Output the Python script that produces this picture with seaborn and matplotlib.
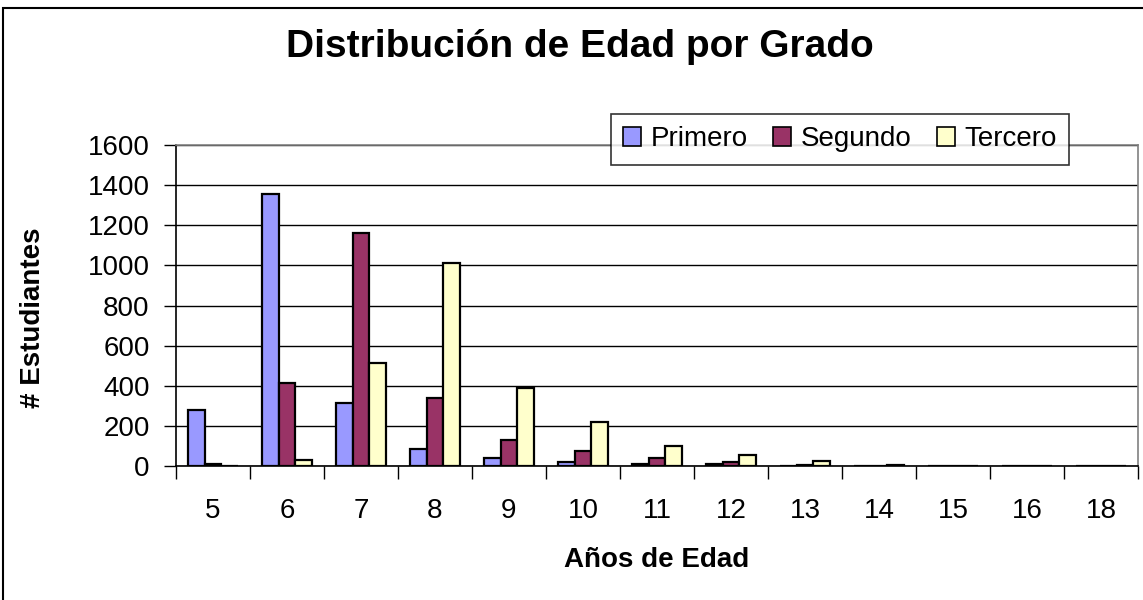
import matplotlib
matplotlib.use("Agg")
import matplotlib.pyplot as plt
import matplotlib.patches as mpatches
import numpy as np
import pandas as pd
import seaborn as sns

edades = ["5", "6", "7", "8", "9", "10", "11", "12", "13", "14", "15", "16", "18"]
primero = [280, 1355, 315, 85, 40, 20, 10, 8, 0, 0, 0, 0, 0]
segundo = [8, 415, 1160, 340, 130, 75, 40, 20, 5, 0, 0, 0, 0]
tercero = [0, 30, 515, 1010, 390, 220, 100, 55, 25, 5, 0, 0, 0]
grados = ["Primero", "Segundo", "Tercero"]
colores = ["#9999FF", "#993366", "#FFFFCC"]

df = pd.DataFrame({
    "edad": edades * 3,
    "grado": [g for g in grados for _ in edades],
    "n": primero + segundo + tercero,
})

sns.set_style("white")
plt.rcParams["font.family"] = ["Liberation Sans", "DejaVu Sans"]
plt.rcParams.update({"text.color": "black", "axes.labelcolor": "black",
                     "xtick.color": "black", "ytick.color": "black"})

W, H = 1143, 600
fig = plt.figure(figsize=(W / 100, H / 100), dpi=100)
ax = fig.add_axes([176 / W, 1 - 466 / H, (1138 - 176) / W, (466 - 145) / H])

sns.barplot(data=df, x="edad", y="n", hue="grado", order=edades,
            hue_order=grados, palette=colores, width=0.68, saturation=1,
            edgecolor="black", linewidth=1.6, ax=ax, legend=False)

ax.set_ylim(0, 1600)
ax.set_xlim(-0.5, len(edades) - 0.5)
ax.set_yticks(np.arange(0, 1601, 200))
ax.yaxis.grid(True, color="black", linewidth=1)
ax.set_axisbelow(True)
ax.tick_params(axis="y", labelsize=20, length=9, width=1, direction="out", left=True, pad=10)
ax.tick_params(axis="x", which="major", labelsize=20, length=0, pad=23)
ax.set_xticks(np.arange(-0.5, len(edades)), minor=True)
ax.tick_params(axis="x", which="minor", length=9, width=1, direction="out", bottom=True)

for s in ["left", "bottom"]:
    ax.spines[s].set_color("black")
    ax.spines[s].set_linewidth(1.2)
for s in ["top", "right"]:
    ax.spines[s].set_color("#808080")
    ax.spines[s].set_linewidth(1.2)

ax.set_xlabel("Años de Edad", fontsize=20, fontweight="bold")
ax.set_ylabel("# Estudiantes", fontsize=20, fontweight="bold")
ax.xaxis.set_label_coords(657 / W, 1 - 560 / H, transform=fig.transFigure)
ax.xaxis.label.set_va("center")
ax.yaxis.set_label_coords(33 / W, 1 - 318 / H, transform=fig.transFigure)
ax.yaxis.label.set_va("center")

fig.text(580 / W, 1 - 47 / H, "Distribución de Edad por Grado", ha="center",
         va="center", fontsize=28, fontweight="bold")

handles = [mpatches.Patch(facecolor=c, edgecolor="black", linewidth=1.2, label=g)
           for g, c in zip(grados, colores)]
leg = fig.legend(handles=handles, loc="center", ncol=3,
                 bbox_to_anchor=(840 / W, 1 - 139 / H), fontsize=20,
                 frameon=True, fancybox=False, handlelength=0.65,
                 handleheight=0.65, handletextpad=0.35, columnspacing=0.9,
                 borderpad=0.45, borderaxespad=0)
leg.get_frame().set_edgecolor("black")
leg.get_frame().set_linewidth(1.2)

fig.patches.append(mpatches.Rectangle((3 / W, -0.05), 1.2, 1 - 8 / H + 0.05,
                                      transform=fig.transFigure, fill=False,
                                      edgecolor="black", linewidth=1.5))

fig.savefig("out.png", dpi=100)
